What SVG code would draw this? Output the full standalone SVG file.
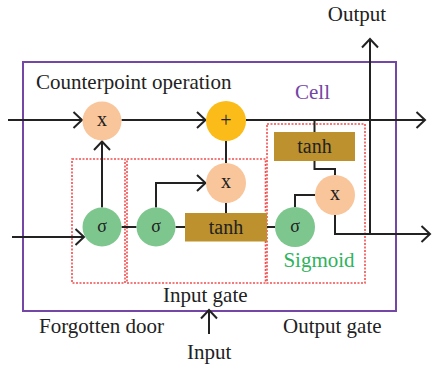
<svg xmlns="http://www.w3.org/2000/svg" width="432" height="369" viewBox="0 0 432 369">
  <defs>
    <marker id="arr" markerUnits="userSpaceOnUse" orient="auto" refX="0" refY="0" markerWidth="20" markerHeight="20" viewBox="-10 -10 20 20" overflow="visible">
      <path d="M-8.5,-8 L0,0 L-8.5,8" fill="none" stroke="#222" stroke-width="2"/>
    </marker>
    <style>
      text { font-family: "Liberation Serif", "Times New Roman", serif; fill: #222; }
      .lbl { font-size: 21px; }
      .op { font-size: 20px; text-anchor: middle; }
      .sig { font-size: 18px; text-anchor: middle; }
      .wire { fill: none; stroke: #222; stroke-width: 2; }
      .gate { fill: none; stroke: #F24E4E; stroke-width: 1.6; stroke-dasharray: 2 1.5; }
      .mul { fill: #F9C59A; }
      .add { fill: #FBBC1A; }
      .act { fill: #7DC68E; }
      .tanh { fill: #BC912E; }
    </style>
  </defs>

  <!-- cell boundary -->
  <rect id="cell-frame" x="23" y="62" width="373" height="249" fill="none" stroke="#7446A6" stroke-width="2"/>

  <!-- gate regions -->
  <g id="gates">
    <rect class="gate" x="72" y="159" width="53" height="124"/>
    <rect class="gate" x="127" y="159" width="138.5" height="124"/>
    <rect class="gate" x="267" y="124" width="98" height="159"/>
  </g>

  <!-- connectors -->
  <g id="connectors">
    <path class="wire" d="M8 120 H82" marker-end="url(#arr)"/>
    <path class="wire" d="M121.5 120 H205.5" marker-end="url(#arr)"/>
    <path class="wire" d="M246 120 H425" marker-end="url(#arr)"/>
    <path class="wire" d="M102 207.5 V141.5" marker-end="url(#arr)"/>
    <path class="wire" d="M12 237 H84" marker-end="url(#arr)"/>
    <path class="wire" d="M121.5 227 H136.5"/>
    <path class="wire" d="M175.5 227 H185"/>
    <path class="wire" d="M156 207.5 V183 H205.5" marker-end="url(#arr)"/>
    <path class="wire" d="M226 203 V213"/>
    <path class="wire" d="M226 163 V141"/>
    <path class="wire" d="M267 227 H275"/>
    <path class="wire" d="M314.5 120 V132"/>
    <path class="wire" d="M314.5 161 V169 H335 V175"/>
    <path class="wire" d="M295 207 V195 H315"/>
    <path class="wire" d="M335 215 V234 H430" marker-end="url(#arr)"/>
    <path class="wire" d="M370 234 V39" marker-end="url(#arr)"/>
    <path class="wire" d="M209 334 V310" marker-end="url(#arr)"/>
  </g>

  <!-- nodes -->
  <g id="forget-mul">
    <circle class="mul" cx="102" cy="121" r="19.5"/>
    <text class="op" x="102" y="126">x</text>
  </g>
  <g id="cell-add">
    <circle class="add" cx="226" cy="121" r="20"/>
    <text class="op" x="226" y="127">+</text>
  </g>
  <g id="forget-sigma">
    <circle class="act" cx="102" cy="227" r="19.5"/>
    <text class="sig" x="102" y="232">σ</text>
  </g>
  <g id="input-sigma">
    <circle class="act" cx="156" cy="227" r="19.5"/>
    <text class="sig" x="156" y="232">σ</text>
  </g>
  <g id="input-tanh">
    <rect class="tanh" x="185" y="213" width="82" height="28.5"/>
    <text class="op lbl" x="226" y="234">tanh</text>
  </g>
  <g id="input-mul">
    <circle class="mul" cx="226" cy="183" r="20"/>
    <text class="op" x="226" y="188">x</text>
  </g>
  <g id="output-tanh">
    <rect class="tanh" x="274" y="132" width="81" height="29"/>
    <text class="op lbl" x="314.5" y="153">tanh</text>
  </g>
  <g id="output-mul">
    <circle class="mul" cx="335" cy="195" r="20"/>
    <text class="op" x="335" y="200">x</text>
  </g>
  <g id="output-sigma">
    <circle class="act" cx="295" cy="227" r="20"/>
    <text class="sig" x="295" y="232">σ</text>
  </g>

  <!-- labels -->
  <g id="labels">
    <text class="lbl" x="357" y="21" text-anchor="middle">Output</text>
    <text class="lbl" x="36" y="89">Counterpoint operation</text>
    <text class="lbl" x="295" y="99" style="fill:#7446A6">Cell</text>
    <text class="lbl" x="319" y="267" text-anchor="middle" style="fill:#2EB35C">Sigmoid</text>
    <text class="lbl" x="163" y="302">Input gate</text>
    <text class="lbl" x="39" y="333">Forgotten door</text>
    <text class="lbl" x="283" y="333">Output gate</text>
    <text class="lbl" x="187" y="359">Input</text>
  </g>
</svg>
